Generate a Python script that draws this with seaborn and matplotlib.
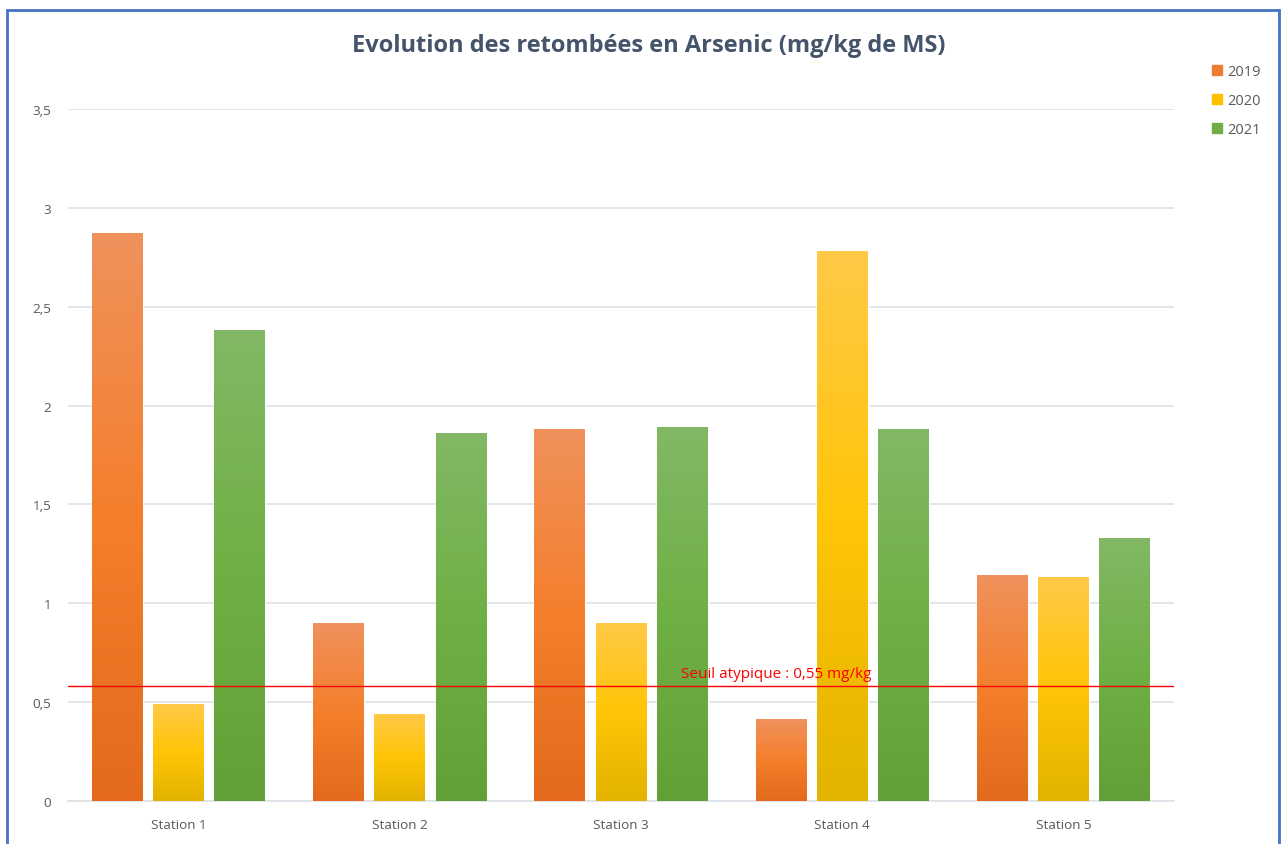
import matplotlib
matplotlib.use('Agg')
from matplotlib import pyplot as plt
from matplotlib.colors import LinearSegmentedColormap
from matplotlib.patches import Rectangle
from matplotlib.ticker import FuncFormatter
import seaborn as sns
import pandas as pd
import numpy as np

# ---------- DONNEES ----------
stations = ['Station 1', 'Station 2', 'Station 3', 'Station 4', 'Station 5']
annees = ['2019', '2020', '2021']
val_2019 = [2.87, 0.90, 1.88, 0.41, 1.14]
val_2020 = [0.49, 0.44, 0.90, 2.78, 1.13]
val_2021 = [2.38, 1.86, 1.89, 1.88, 1.33]
seuil_position = 0.58
seuil_label = 'Seuil atypique : 0,55 mg/kg'
titre = 'Evolution des retombées en Arsenic (mg/kg de MS)'

df = pd.DataFrame({
    'station': stations * 3,
    'annee': [a for a in annees for _ in stations],
    'valeur': val_2019 + val_2020 + val_2021,
})

couleurs = {'2019': '#ED7D31', '2020': '#FFC000', '2021': '#70AD47'}
degrades = {
    '2019': ['#E36A1C', '#F47F2C', '#F0915C'],
    '2020': ['#E2B300', '#FFC506', '#FFC947'],
    '2021': ['#61A036', '#6FB044', '#82B865'],
}

# ---------- FIGURE ----------
sns.set_theme(style='white')
plt.rcParams['font.family'] = ['Open Sans', 'DejaVu Sans']

fig = plt.figure(figsize=(12.82, 8.45), dpi=100)
ax = fig.add_axes([68 / 1282, 43 / 845, 1106 / 1282, 692 / 845])

sns.barplot(data=df, x='station', y='valeur', hue='annee', palette=couleurs,
            width=0.83, gap=0.17, ax=ax, legend=False, saturation=1)

# degradé vertical sur chaque barre
for cont, annee in zip(ax.containers, annees):
    cmap = LinearSegmentedColormap.from_list(annee, degrades[annee])
    for bar in cont:
        x0, y0 = bar.get_x(), bar.get_y()
        w, h = bar.get_width(), bar.get_height()
        grad = np.linspace(0, 1, 256).reshape(-1, 1)
        ax.imshow(grad, cmap=cmap, origin='lower', aspect='auto',
                  extent=(x0, x0 + w, y0, y0 + h), zorder=3)

ax.set_xlim(-0.5, 4.5)
ax.set_ylim(0, 3.5)
ax.set_yticks(np.arange(0, 3.51, 0.5))
ax.yaxis.set_major_formatter(FuncFormatter(lambda v, p: f'{v:g}'.replace('.', ',')))
ax.grid(axis='y', color='#DDE1E8', linewidth=1.2, zorder=0)
ax.set_axisbelow(True)
for s in ['left', 'right', 'top']:
    ax.spines[s].set_visible(False)
ax.spines['bottom'].set_color('#DDE1E8')
ax.spines['bottom'].set_linewidth(1.2)
ax.tick_params(axis='both', length=0, colors='#595959', labelsize=9.7)
ax.tick_params(axis='y', pad=12)
ax.tick_params(axis='x', pad=12)
ax.set_xlabel('')
ax.set_ylabel('')

# seuil
ax.axhline(seuil_position, color='#FF0000', linewidth=1, zorder=4)
ax.text(2.27, 0.645, seuil_label, color='#FF0000', fontsize=11, va='center', zorder=5)

# titre
fig.text(649 / 1282, 1 - 46 / 845, titre, ha='center', va='center',
         fontsize=17, fontweight='bold', color='#44546A')

# légende
handles = [plt.Line2D([], [], marker='s', linestyle='', markersize=7.5,
                      color=couleurs[a]) for a in annees]
fig.legend(handles, annees, loc='upper left', bbox_to_anchor=(1198 / 1282, 1 - 52 / 845),
           frameon=False, handlelength=0.8, handletextpad=0.3, labelspacing=0.95,
           fontsize=10.5, labelcolor='#595959')

# cadre bleu
fig.patches.append(Rectangle((7 / 1282, -0.05), 1272 / 1282, 1.05 - 11 / 845,
                             transform=fig.transFigure, fill=False,
                             edgecolor='#4472C4', linewidth=2, figure=fig))

fig.savefig('out.png', dpi=100)
